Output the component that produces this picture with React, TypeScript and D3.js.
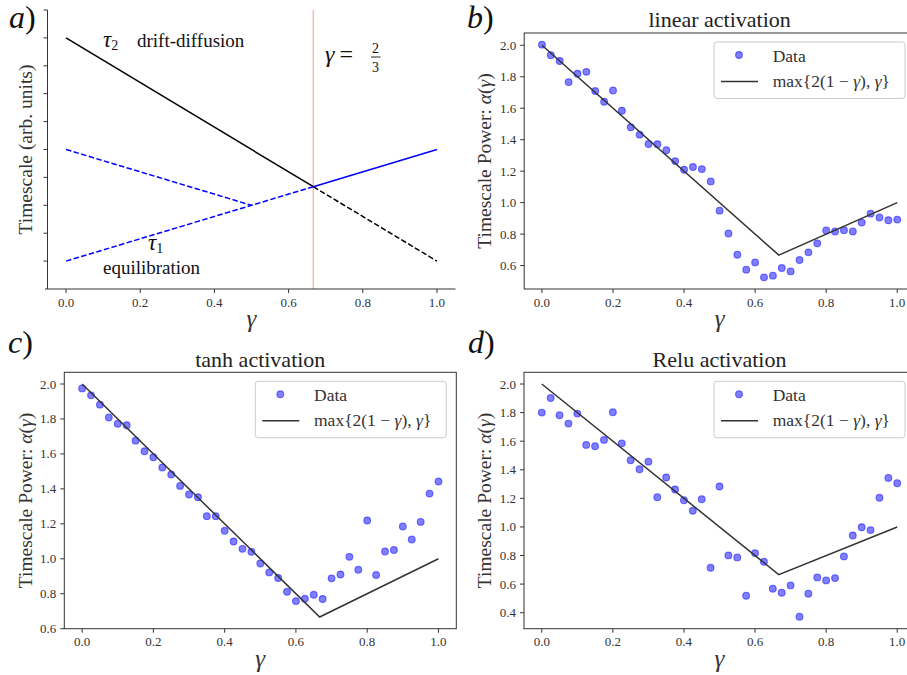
import React from "react";
import * as d3 from "d3";

// ---------- data ----------
const GAMMA = [
  0, 0.025, 0.05, 0.075, 0.1, 0.125, 0.15, 0.175, 0.2, 0.225,
  0.25, 0.275, 0.3, 0.325, 0.35, 0.375, 0.4, 0.425, 0.45, 0.475,
  0.5, 0.525, 0.55, 0.575, 0.6, 0.625, 0.65, 0.675, 0.7, 0.725,
  0.75, 0.775, 0.8, 0.825, 0.85, 0.875, 0.9, 0.925, 0.95, 0.975, 1.0,
];

const LINEAR = [
  2.004, 1.937, 1.9, 1.766, 1.819, 1.831, 1.709, 1.641, 1.713, 1.584,
  1.479, 1.432, 1.373, 1.371, 1.333, 1.264, 1.209, 1.226, 1.213, 1.135,
  0.949, 0.804, 0.669, 0.574, 0.62, 0.525, 0.536, 0.584, 0.563, 0.635,
  0.684, 0.741, 0.823, 0.816, 0.825, 0.816, 0.873, 0.93, 0.905, 0.888, 0.892,
];

const TANH = [
  1.975, 1.935, 1.882, 1.808, 1.773, 1.764, 1.676, 1.615, 1.581, 1.522,
  1.482, 1.417, 1.368, 1.352, 1.244, 1.244, 1.16, 1.099, 1.057, 1.04,
  0.973, 0.922, 0.89, 0.811, 0.758, 0.771, 0.794, 0.77, 0.888, 0.91,
  1.011, 0.937, 1.219, 0.907, 1.042, 1.05, 1.185, 1.11, 1.211, 1.373, 1.442,
];

const RELU = [
  1.8, 1.902, 1.781, 1.723, 1.793, 1.574, 1.565, 1.609, 1.802, 1.585,
  1.467, 1.404, 1.457, 1.208, 1.346, 1.262, 1.187, 1.113, 1.194, 0.714,
  1.283, 0.801, 0.787, 0.519, 0.817, 0.756, 0.568, 0.54, 0.591, 0.372,
  0.533, 0.647, 0.626, 0.642, 0.794, 0.94, 0.998, 0.978, 1.204, 1.343, 1.306,
];

// max{2(1-γ), γ} vertices
const THEORY_G = [0, 2 / 3, 1];
const THEORY_A = [2, 2 / 3, 1];

const X_TICKS = [0, 0.2, 0.4, 0.6, 0.8, 1.0];
const Y_TICKS_B = [0.6, 0.8, 1.0, 1.2, 1.4, 1.6, 1.8, 2.0];
const Y_TICKS_C = [0.6, 0.8, 1.0, 1.2, 1.4, 1.6, 1.8, 2.0];
const Y_TICKS_D = [0.4, 0.6, 0.8, 1.0, 1.2, 1.4, 1.6, 1.8, 2.0];

// panel a: schematic timescales
const TAU2_G = [0, 2 / 3, 1];
const TAU2_V = [9, 11 / 3, 1];
const TAU1_G = [0, 2 / 3, 1];
const TAU1_V = [1, 11 / 3, 5];
const TAU1_ALT_G = [0, 0.5];
const TAU1_ALT_V = [5, 3];
const A_Y_TICKS = [1, 2, 3, 4, 5, 6, 7, 8, 9, 10];

const FONT = "'Liberation Serif', 'DejaVu Serif', serif";
const AX = "#333";
const TXT = "#333";

function fmt(v: number) {
  return v.toFixed(1);
}

function YLabelPower({ x, y }: { x: number; y: number }) {
  return (
    <text
      transform={`translate(${x},${y}) rotate(-90)`}
      textAnchor="middle"
      fontFamily={FONT}
      fontSize={19.5}
      fill={TXT}
    >
      Timescale Power:{" "}
      <tspan fontStyle="italic">α</tspan>(<tspan fontStyle="italic">γ</tspan>)
    </text>
  );
}

function ScatterPanel(props: {
  left: number;
  right: number;
  top: number;
  bottom: number;
  yDomain: [number, number];
  yTicks: number[];
  values: number[];
  title: string;
  tag: string;
  tagX: number;
  tagY: number;
  ylabelX: number;
}) {
  const { left, right, top, bottom, yDomain, yTicks, values, title, tag, tagX, tagY, ylabelX } = props;
  const x = d3.scaleLinear().domain([-0.05, 1.05]).range([left, right]);
  const y = d3.scaleLinear().domain(yDomain).range([bottom, top]);
  const line = d3
    .line<number>()
    .x((_, i) => x(THEORY_G[i]))
    .y((d) => y(d));
  const cx = (left + right) / 2;
  const cy = (top + bottom) / 2;
  const lgL = right - 10 - 191;
  const lgT = top + 9;
  return (
    <g>
      {values.map((v, i) => (
        <circle
          key={i}
          cx={x(GAMMA[i])}
          cy={y(v)}
          r={3.4}
          fill="blue"
          fillOpacity={0.5}
          stroke="blue"
          strokeOpacity={0.5}
          strokeWidth={1.1}
        />
      ))}
      <path d={line(THEORY_A) || ""} fill="none" stroke="#333" strokeWidth={1.5} />
      <rect x={left} y={top} width={right - left} height={bottom - top} fill="none" stroke={AX} strokeWidth={1} />
      {X_TICKS.map((t) => (
        <g key={t}>
          <line x1={x(t)} x2={x(t)} y1={bottom} y2={bottom + 4} stroke={AX} />
          <text x={x(t)} y={bottom + 17.5} textAnchor="middle" fontFamily={FONT} fontSize={13} fill={TXT}>
            {fmt(t)}
          </text>
        </g>
      ))}
      {yTicks.map((t) => (
        <g key={t}>
          <line x1={left - 4} x2={left} y1={y(t)} y2={y(t)} stroke={AX} />
          <text x={left - 8} y={y(t) + 4.5} textAnchor="end" fontFamily={FONT} fontSize={13} fill={TXT}>
            {fmt(t)}
          </text>
        </g>
      ))}
      <rect x={lgL} y={lgT} width={191} height={56.5} rx={3} fill="white" fillOpacity={0.8} stroke="#ccc" strokeWidth={1} />
      <circle cx={lgL + 25} cy={lgT + 13} r={3.4} fill="blue" fillOpacity={0.5} stroke="blue" strokeOpacity={0.5} strokeWidth={1.1} />
      <text x={lgL + 58.7} y={lgT + 19.7} fontFamily={FONT} fontSize={17.5} fill={TXT}>
        Data
      </text>
      <line x1={lgL + 7} x2={lgL + 44} y1={lgT + 39.5} y2={lgT + 39.5} stroke="#333" strokeWidth={1.5} />
      <text x={lgL + 58.7} y={lgT + 44.5} fontFamily={FONT} fontSize={17.5} fill={TXT}>
        max{"{"}2(1 − <tspan fontStyle="italic">γ</tspan>), <tspan fontStyle="italic">γ</tspan>
        {"}"}
      </text>
      <text x={cx} y={top - 5.6} textAnchor="middle" fontFamily={FONT} fontSize={22} fill="#222">
        {title}
      </text>
      <text x={cx} y={bottom + 38} textAnchor="middle" fontFamily={FONT} fontSize={25} fontStyle="italic" fill={TXT}>
        γ
      </text>
      <YLabelPower x={ylabelX} y={cy} />
      <text x={tagX} y={tagY} fontFamily={FONT} fontSize={32} fill="#111">
        <tspan fontStyle="italic">{tag.slice(0, 1)}</tspan>
        {tag.slice(1)}
      </text>
    </g>
  );
}

function PanelA() {
  const left = 47.5;
  const right = 455.5;
  const top = 10;
  const bottom = 289;
  const x = d3.scaleLinear().domain([-0.05, 1.05]).range([left, right]);
  const y = d3.scaleLinear().domain([0, 10]).range([bottom, top]);
  const seg = (gs: number[], vs: number[], a: number, b: number) =>
    d3
      .line<number>()
      .x((d) => x(d))
      .y((_, i) => y(vs.slice(a, b + 1)[i]))(gs.slice(a, b + 1)) || "";
  const dash = "5.5,2.4";
  return (
    <g>
      <line x1={x(2 / 3)} x2={x(2 / 3)} y1={top} y2={bottom} stroke="red" strokeOpacity={0.3} strokeWidth={1.5} />
      <path d={seg(TAU2_G, TAU2_V, 0, 1)} fill="none" stroke="black" strokeWidth={1.5} />
      <path d={seg(TAU2_G, TAU2_V, 1, 2)} fill="none" stroke="black" strokeWidth={1.5} strokeDasharray={dash} />
      <path d={seg(TAU1_G, TAU1_V, 0, 1)} fill="none" stroke="blue" strokeWidth={1.5} strokeDasharray={dash} />
      <path d={seg(TAU1_G, TAU1_V, 1, 2)} fill="none" stroke="blue" strokeWidth={1.5} />
      <path d={seg(TAU1_ALT_G, TAU1_ALT_V, 0, 1)} fill="none" stroke="blue" strokeWidth={1.5} strokeDasharray={dash} />
      <line x1={left} x2={left} y1={top} y2={bottom} stroke={AX} />
      <line x1={45} x2={right} y1={bottom} y2={bottom} stroke={AX} />
      {A_Y_TICKS.map((t) => (
        <line key={t} x1={left - 4} x2={left} y1={y(t)} y2={y(t)} stroke={AX} />
      ))}
      {X_TICKS.map((t) => (
        <g key={t}>
          <line x1={x(t)} x2={x(t)} y1={bottom} y2={bottom + 4} stroke={AX} />
          <text x={x(t)} y={bottom + 17.5} textAnchor="middle" fontFamily={FONT} fontSize={13} fill={TXT}>
            {fmt(t)}
          </text>
        </g>
      ))}
      <text x={(left + right) / 2} y={bottom + 38} textAnchor="middle" fontFamily={FONT} fontSize={25} fontStyle="italic" fill={TXT}>
        γ
      </text>
      <text
        transform={`translate(31.5,${(top + bottom) / 2}) rotate(-90)`}
        textAnchor="middle"
        fontFamily={FONT}
        fontSize={19.5}
        fill={TXT}
      >
        Timescale (arb. units)
      </text>
      <text x={103} y={46.5} fontFamily={FONT} fontSize={23} fill="#111">
        <tspan fontStyle="italic">τ</tspan>
        <tspan fontSize={14} dy={3.5}>2</tspan>
      </text>
      <text x={137} y={46.5} fontFamily={FONT} fontSize={19} fill="#111">
        drift-diffusion
      </text>
      <text x={148} y={250} fontFamily={FONT} fontSize={23} fill="#111">
        <tspan fontStyle="italic">τ</tspan>
        <tspan fontSize={14} dy={3}>1</tspan>
      </text>
      <text x={103} y={273.5} fontFamily={FONT} fontSize={19} fill="#111">
        equilibration
      </text>
      <text x={325} y={62} fontFamily={FONT} fontSize={24} fill="#111">
        <tspan fontStyle="italic">γ</tspan>
        <tspan dx={5}>=</tspan>
      </text>
      <text x={375.5} y={52.5} textAnchor="middle" fontFamily={FONT} fontSize={14} fill="#111">
        2
      </text>
      <line x1={371} x2={380.5} y1={57} y2={57} stroke="#111" strokeWidth={0.9} />
      <text x={375.5} y={71.5} textAnchor="middle" fontFamily={FONT} fontSize={14} fill="#111">
        3
      </text>
      <text x={9} y={28} fontFamily={FONT} fontSize={32} fill="#111">
        <tspan fontStyle="italic">a</tspan>)
      </text>
    </g>
  );
}

export default function App() {
  return (
    <svg
      width={907}
      height={675}
      style={{ position: "absolute", left: 0, top: 0, background: "white" }}
    >
      <rect x={0} y={0} width={907} height={675} fill="white" />
      <PanelA />
      <ScatterPanel
        left={524.2}
        right={915}
        top={33}
        bottom={289}
        yDomain={[0.451, 2.078]}
        yTicks={Y_TICKS_B}
        values={LINEAR}
        title="linear activation"
        tag="b)"
        tagX={467}
        tagY={28}
        ylabelX={491}
      />
      <ScatterPanel
        left={64.3}
        right={456.3}
        top={372.3}
        bottom={628.7}
        yDomain={[0.6, 2.067]}
        yTicks={Y_TICKS_C}
        values={TANH}
        title="tanh activation"
        tag="c)"
        tagX={8}
        tagY={353}
        ylabelX={31.5}
      />
      <ScatterPanel
        left={524}
        right={915}
        top={372.3}
        bottom={628.7}
        yDomain={[0.288, 2.082]}
        yTicks={Y_TICKS_D}
        values={RELU}
        title="Relu activation"
        tag="d)"
        tagX={468}
        tagY={353}
        ylabelX={491}
      />
    </svg>
  );
}
